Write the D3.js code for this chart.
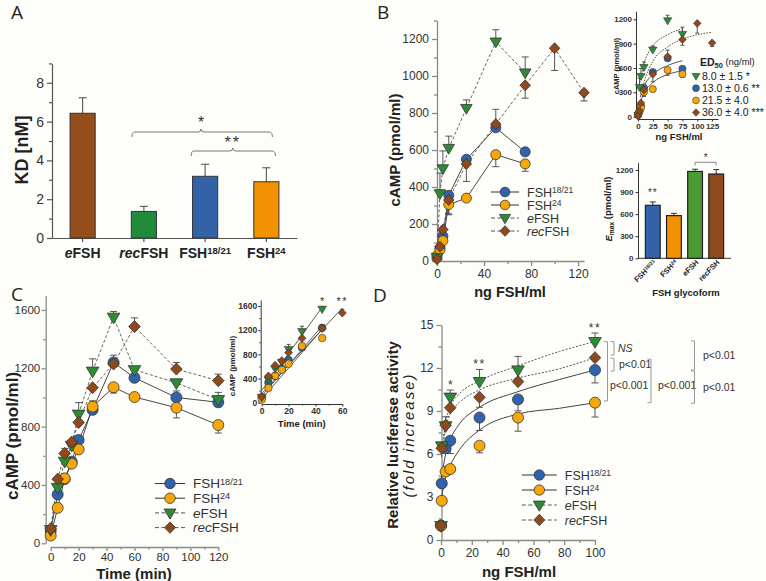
<!DOCTYPE html>
<html lang="en">
<head>
<meta charset="UTF-8">
<title>FSH glycoforms: binding, cAMP and luciferase responses</title>
<script src="https://cdn.jsdelivr.net/npm/d3@7/dist/d3.min.js"></script>
<style>
  html, body { margin: 0; padding: 0; background: #fdfdf9; }
  svg { display: block; }
</style>
</head>
<body>
<svg id="fig" width="766" height="581"></svg>
<script>
// ---------- values ----------

// A: receptor binding (KD, nM)
const kdNames  = ["eFSH", "recFSH", "FSH18/21", "FSH24"];
const kdValues = [6.43, 1.37, 3.18, 2.9];
const kdErrors = [0.8, 0.26, 0.62, 0.72];

// series order used in B, C and D
const seriesNames = ["FSH18/21", "FSH24", "eFSH", "recFSH"];

// B: cAMP vs dose; sign of the error tells which way the bar is drawn
const bDose1821 = [0, 2.5, 5, 10, 25, 50, 75];
const bCamp1821 = [20, 70, 135, 355, 550, 720, 590];
const bErr1821  = [0, 0, 0, 0, 0, 0, 15];
const bDose24   = [0, 2.5, 5, 10, 25, 50, 75];
const bCamp24   = [30, 60, 110, 305, 340, 575, 525];
const bErr24    = [0, 0, 0, -55, 0, -65, -40];
const bDoseE    = [0, 2.5, 5, 10, 25, 50, 75];
const bCampE    = [20, 365, 500, 610, 826, 1185, 1018];
const bErrE     = [0, 110, 95, 65, 45, 65, 85];
const bDoseRec  = [0, 2.5, 5, 10, 25, 50, 75, 100, 125];
const bCampRec  = [10, 77, 170, 330, 525, 740, 950, 1150, 910];
const bErrRec   = [0, 0, 0, -75, -95, 80, -70, -120, -45];

// B inset: fitted curves, [dose, cAMP]
const bFit1821 = [[4, 240], [10, 370], [25, 520], [50, 630], [75, 690]];
const bFit24   = [[4, 180], [10, 290], [25, 420], [50, 520], [75, 565]];
const bFitE    = [[3, 420], [10, 650], [25, 870], [50, 1010], [75, 1085]];
const bFitRec  = [[5, 270], [10, 420], [25, 680], [50, 860], [75, 955], [100, 1010], [125, 1040]];
const ed50Series = ["eFSH", "FSH18/21", "FSH24", "recFSH"];
const ed50Labels = ["8.0 \u00b1 1.5 *", "13.0 \u00b1 0.6 **", "21.5 \u00b1 4.0", "36.0 \u00b1 4.0 ***"];

// B inset: Emax (pmol/ml)
const emaxNames  = ["FSH18/21", "FSH24", "eFSH", "recFSH"];
const emaxValues = [720, 580, 1180, 1145];
const emaxErrors = [45, 30, 30, 60];

// C: cAMP time course (min)
const cTime     = [0, 5, 10, 15, 20, 30, 45, 60, 90, 120];
const cCamp1821 = [85, 335, 440, 560, 708, 915, 1240, 1135, 1000, 967];
const cErr1821  = [0, 0, 0, 0, 25, 0, 50, 25, 45, -30];
const cCamp24   = [53, 243, 445, 546, 644, 937, 1070, 1003, 930, 811];
const cErr24    = [0, 0, 0, 0, 0, 40, -40, -25, -70, -55];
const cCampE    = [93, 382, 562, 671, 885, 1180, 1550, 1190, 1100, 985];
const cErrE     = [0, 0, 0, 0, 80, 85, 40, 0, 0, 50];
const cCampRec  = [100, 440, 616, 694, 829, 1067, 1230, 1486, 1195, 1115];
const cErrRec   = [0, 0, 35, 0, 0, 0, 0, 60, 45, 45];

// C inset: linear fits up to the peak
const cFitStart = [110, 60, 200, 150];
const cFitEnd   = [1270, 1215, 1580, 1565];
const cFitLast  = [45, 45, 45, 60];

// D: luciferase activity vs dose
const dDose     = [0, 0.5, 3, 6, 25, 50, 100];
const dLuc1821  = [1.0, 3.95, 6.4, 6.93, 8.54, 9.81, 11.86];
const dErr1821  = [0, 0, 0, -0.9, -0.9, -0.8, -0.9];
const dLuc24    = [1.0, 2.74, 4.77, 4.95, 6.58, 8.54, 9.58];
const dErr24    = [0, 0, 0, 0, -0.5, -0.95, -1.0];
const dLucE     = [1.0, 6.56, 7.96, 9.96, 11.05, 11.86, 13.84];
const dErrE     = [0, 0, 0, 0.5, 0.85, 0.95, 0.6];
const dLucRec   = [1.0, 6.4, 8.0, 9.23, 9.96, 11.05, 12.72];
const dErrRec   = [0, 0, 0.6, 0, -0.7, 0.9, 0];

// D: fitted curves, [dose, fold]
const dFit1821 = [[0.3, 4.3], [3, 6.0], [6, 7.0], [12, 8.1], [25, 9.26], [50, 10.35], [77, 11.2], [100, 11.86]];
const dFit24   = [[0.3, 2.9], [3, 4.4], [6, 5.2], [12, 6.3], [25, 7.67], [50, 8.79], [77, 9.19], [100, 9.58]];
const dFitE    = [[0.3, 6.0], [3, 8.2], [6, 9.3], [12, 10.2], [25, 11.1], [50, 12.15], [77, 13.16], [100, 13.84]];
const dFitRec  = [[0.3, 5.8], [3, 7.8], [6, 8.8], [12, 9.6], [25, 10.47], [50, 11.3], [77, 11.95], [100, 12.72]];
const dStarDose  = [6, 25, 100];
const dStarLabel = ["*", "**", "**"];

// D: pairwise comparisons at 100 ng/ml
const dCompFrom  = [13.84, 12.68, 13.84, 12.61, 13.89, 11.79];
const dCompTo    = [12.91, 11.79, 9.7, 9.58, 11.86, 9.54];
const dCompLabel = ["NS", "p<0.01", "p<0.001", "p<0.001", "p<0.01", "p<0.01"];

// ---------- styles ----------
const FONT = "'Liberation Sans', Arial, Helvetica, sans-serif";
const seriesColor = { "FSH18/21": "#2f63ae", "FSH24": "#f7a707", "eFSH": "#2e8b35", "recFSH": "#8e4a1a" };
const seriesShape = { "FSH18/21": "circle", "FSH24": "circle", "eFSH": "triangle", "recFSH": "diamond" };
const seriesDash  = { "FSH18/21": false, "FSH24": false, "eFSH": true, "recFSH": true };
const kdColor   = { "eFSH": "#954d1b", "recFSH": "#1f8b3b", "FSH18/21": "#3462a6", "FSH24": "#f29200" };
const emaxColor = { "FSH18/21": "#3462a6", "FSH24": "#f29200", "eFSH": "#4a9a35", "recFSH": "#8e4a1a" };
const intFmt = d3.format("d");

const svg = d3.select("#fig").attr("font-family", FONT);
svg.append("rect").attr("width", 766).attr("height", 581).attr("fill", "#fdfdf9");

// ---------- helpers ----------
function shapePath(shape, r) {
  if (shape === "triangle") return `M${-r * 1.15},${-r * 0.75}L${r * 1.15},${-r * 0.75}L0,${r * 1.2}Z`;
  if (shape === "diamond") return `M0,${-r * 1.1}L${r * 1.05},0L0,${r * 1.1}L${-r * 1.05},0Z`;
  return d3.symbol(d3.symbolCircle, Math.PI * r * r)();
}

function marker(g, name, r, sw) {
  g.append("path").attr("d", shapePath(seriesShape[name], r))
    .attr("fill", seriesColor[name]).attr("stroke", "#333").attr("stroke-width", sw || 0.8);
}

// label with italic prefix / superscript suffix
function rich(t, name, italic) {
  const m = name.match(/^FSH(\d.*)$/);
  if (m) {
    t.append("tspan").text("FSH");
    t.append("tspan").attr("dy", "-0.42em").attr("font-size", "0.68em").text(m[1]);
  } else {
    const pre = name.replace("FSH", "");
    t.append("tspan").attr("font-style", italic ? "italic" : null).text(pre);
    t.append("tspan").text("FSH");
  }
}

function styleAxis(g, color, w, size, bold) {
  g.attr("font-family", FONT).attr("font-size", size);
  g.selectAll(".domain").attr("stroke", color).attr("stroke-width", w);
  g.selectAll(".tick line").attr("stroke", color).attr("stroke-width", w);
  g.selectAll(".tick text").attr("fill", "#333").attr("font-weight", bold ? "bold" : "normal");
}

function axes(g, x, y, o) {
  const ax = g.append("g").attr("transform", `translate(0,${o.xAt})`)
    .call(d3.axisBottom(x).tickValues(o.xTicks).tickFormat(intFmt)
      .tickSize(o.tick).tickSizeOuter(0).tickPadding(o.pad));
  styleAxis(ax, o.color, o.w, o.size, o.bold);
  if (o.xMinor) {
    const mx = g.append("g").attr("transform", `translate(0,${o.xAt})`)
      .call(d3.axisBottom(x).tickValues(o.xMinor).tickSize(o.minor).tickFormat(""));
    mx.select(".domain").remove();
    styleAxis(mx, o.color, o.w, o.size, o.bold);
  }
  const ay = g.append("g").attr("transform", `translate(${o.yAt},0)`)
    .call(d3.axisLeft(y).tickValues(o.yTicks).tickFormat(intFmt)
      .tickSize(o.tick).tickSizeOuter(0).tickPadding(o.pad));
  styleAxis(ay, o.color, o.w, o.size, o.bold);
  if (o.yMinor) {
    const my = g.append("g").attr("transform", `translate(${o.yAt},0)`)
      .call(d3.axisLeft(y).tickValues(o.yMinor).tickSize(o.minor).tickFormat(""));
    my.select(".domain").remove();
    styleAxis(my, o.color, o.w, o.size, o.bold);
  }
}

function toPoints(xs, ys, es) {
  return xs.map((d, k) => ({ x: d, y: ys[k], e: es ? es[k] : 0 }));
}

// lines, then error bars, then markers, so markers sit on top
function drawSeriesSet(g, x, y, sets, o) {
  const line = d3.line().x(d => x(d.x)).y(d => y(d.y));
  sets.forEach(s => {
    g.append("path").datum(s.pts).attr("d", line).attr("fill", "none")
      .attr("stroke", seriesDash[s.name] ? "#555" : "#333").attr("stroke-width", o.lw)
      .attr("stroke-dasharray", seriesDash[s.name] && o.dashed ? "3,2" : null);
  });
  sets.forEach(s => {
    s.pts.filter(d => d.e).forEach(d => {
      const x0 = x(d.x), y1 = y(d.y + d.e);
      g.append("line").attr("x1", x0).attr("x2", x0).attr("y1", y(d.y)).attr("y2", y1)
        .attr("stroke", "#444").attr("stroke-width", 0.9);
      g.append("line").attr("x1", x0 - o.cap).attr("x2", x0 + o.cap).attr("y1", y1).attr("y2", y1)
        .attr("stroke", "#444").attr("stroke-width", 0.9);
    });
  });
  sets.forEach(s => {
    g.selectAll(null).data(s.pts).join("g")
      .attr("transform", d => `translate(${x(d.x)},${y(d.y)})`)
      .each(function () { marker(d3.select(this), s.name, o.r, o.sw); });
  });
}

function legend(g, cx, y0, dy, half, r, size) {
  seriesNames.forEach((name, i) => {
    const yy = y0 + i * dy;
    g.append("line").attr("x1", cx - half).attr("x2", cx + half).attr("y1", yy).attr("y2", yy)
      .attr("stroke", seriesDash[name] ? "#555" : "#333").attr("stroke-width", 1)
      .attr("stroke-dasharray", seriesDash[name] ? "4,2.5" : null);
    marker(g.append("g").attr("transform", `translate(${cx},${yy})`), name, r);
    const t = g.append("text").attr("x", cx + half + 8).attr("y", yy + size * 0.36)
      .attr("font-size", size).attr("fill", "#333");
    rich(t, name, true);
  });
}

function yTitle(g, x, y, size, parts) {
  const t = g.append("text").attr("transform", `translate(${x},${y}) rotate(-90)`)
    .attr("text-anchor", "middle").attr("font-size", size).attr("font-weight", "bold").attr("fill", "#222");
  parts.forEach(p => {
    const s = t.append("tspan").text(p.t);
    if (p.it) s.attr("font-style", "italic");
    if (p.sub) s.attr("font-size", "0.7em").attr("dy", "0.3em");
    if (p.back) s.attr("dy", "-0.3em");
  });
  return t;
}

function panelLetter(x, y, s) {
  svg.append("text").attr("x", x).attr("y", y).attr("font-family", "'Open Sans', sans-serif")
    .attr("font-size", 19).attr("fill", "#222").text(s);
}

function brace(g, x1, x2, yy, cx, leg) {
  g.append("path")
    .attr("d", `M${x1},${yy + leg}Q${x1},${yy} ${x1 + 3},${yy}L${cx - 3},${yy}Q${cx},${yy} ${cx},${yy - 3}` +
               `Q${cx},${yy} ${cx + 3},${yy}L${x2 - 3},${yy}Q${x2},${yy} ${x2},${yy + leg}`)
    .attr("fill", "none").attr("stroke", "#777").attr("stroke-width", 1);
}

// ---------- A ----------
panelLetter(11, 19, "A");
{
  const g = svg.append("g");
  const x = d3.scaleBand().domain(kdNames).range([52, 297]).paddingInner(0.59).paddingOuter(0.295);
  const y = d3.scaleLinear().domain([0, 9]).range([238, 63.4]);

  const ay = g.append("g").attr("transform", "translate(52,0)")
    .call(d3.axisLeft(y).tickValues([0, 2, 4, 6, 8]).tickSize(5).tickSizeOuter(0).tickPadding(3));
  styleAxis(ay, "#555", 1.2, 14, false);
  const my = g.append("g").attr("transform", "translate(52,0)")
    .call(d3.axisLeft(y).tickValues([1, 3, 5, 7, 9]).tickSize(3).tickFormat(""));
  my.select(".domain").remove();
  styleAxis(my, "#555", 1.2, 14, false);
  const ax = g.append("g").attr("transform", "translate(0,238)")
    .call(d3.axisBottom(x).tickSize(4).tickSizeOuter(0).tickFormat(""));
  styleAxis(ax, "#555", 1.2, 14, false);

  kdNames.forEach((n, i) => {
    const top = y(kdValues[i] + kdErrors[i]), cx = x(n) + x.bandwidth() / 2;
    g.append("line").attr("x1", cx).attr("x2", cx).attr("y1", y(kdValues[i])).attr("y2", top)
      .attr("stroke", "#555").attr("stroke-width", 1.1);
    g.append("line").attr("x1", cx - 4).attr("x2", cx + 4).attr("y1", top).attr("y2", top)
      .attr("stroke", "#555").attr("stroke-width", 1.1);
  });
  g.selectAll("rect.bar").data(kdNames).join("rect").attr("class", "bar")
    .attr("x", d => x(d)).attr("width", x.bandwidth())
    .attr("y", (d, i) => y(kdValues[i])).attr("height", (d, i) => y(0) - y(kdValues[i]))
    .attr("fill", d => kdColor[d]).attr("stroke", "#333").attr("stroke-width", 1);

  kdNames.forEach(n => {
    const t = g.append("text").attr("x", x(n) + x.bandwidth() / 2).attr("y", 258)
      .attr("text-anchor", "middle").attr("font-size", 14).attr("font-weight", "bold").attr("fill", "#222");
    rich(t, n, true);
  });
  yTitle(g, 28, 150, 18, [{ t: "KD [nM]" }]);

  const c = n => x(n) + x.bandwidth() / 2;
  brace(g, c("recFSH") - 12, c("FSH24") + 6, 132, (c("recFSH") + c("FSH24")) / 2 - 4, 5);
  g.append("text").attr("x", (c("recFSH") + c("FSH24")) / 2 - 4).attr("y", 128).attr("text-anchor", "middle")
    .attr("font-size", 16).attr("fill", "#333").text("*");
  brace(g, c("FSH18/21") - 14, c("FSH24") + 9, 151, (c("FSH18/21") + c("FSH24")) / 2 - 3, 5);
  g.append("text").attr("x", (c("FSH18/21") + c("FSH24")) / 2 - 3).attr("y", 148).attr("text-anchor", "middle")
    .attr("font-size", 16).attr("letter-spacing", 2).attr("fill", "#333").text("**");
}

// ---------- B main ----------
panelLetter(377, 19, "B");
{
  const g = svg.append("g");
  const x = d3.scaleLinear().domain([0, 125]).range([437, 584]);
  const y = d3.scaleLinear().domain([0, 1300]).range([261, 20.5]);
  axes(g, x, y, {
    xAt: 261, yAt: 437, xTicks: [0, 40, 80, 120], xMinor: [20, 60, 100],
    yTicks: [0, 200, 400, 600, 800, 1000, 1200], yMinor: [100, 300, 500, 700, 900, 1100, 1300],
    tick: 5, minor: 3, pad: 3, color: "#8a8a8a", w: 1.3, size: 12, bold: false
  });
  drawSeriesSet(g, x, y, [
    { name: "FSH18/21", pts: toPoints(bDose1821, bCamp1821, bErr1821) },
    { name: "FSH24", pts: toPoints(bDose24, bCamp24, bErr24) },
    { name: "eFSH", pts: toPoints(bDoseE, bCampE, bErrE) },
    { name: "recFSH", pts: toPoints(bDoseRec, bCampRec, bErrRec) }
  ], { lw: 0.9, dashed: true, cap: 3.5, r: 5, sw: 0.8 });
  legend(g, 505, 192, 13, 14, 4.8, 12.5);
  yTitle(g, 400, 150, 15, [{ t: "cAMP (pmol/ml)" }]);
  g.append("text").attr("x", 510).attr("y", 297).attr("text-anchor", "middle").attr("font-size", 14.5)
    .attr("font-weight", "bold").attr("fill", "#222").text("ng FSH/ml");
}

// ---------- B inset: dose response with fits ----------
{
  const g = svg.append("g");
  const x = d3.scaleLinear().domain([0, 135]).range([638, 718]);
  const y = d3.scaleLinear().domain([0, 1300]).range([116.7, 11.2]);
  axes(g, x, y, {
    xAt: 119, yAt: 636, xTicks: [0, 25, 50, 75, 100, 125], xMinor: null,
    yTicks: [0, 300, 600, 900, 1200], yMinor: null,
    tick: 2.5, minor: 0, pad: 1.5, color: "#333", w: 1, size: 8, bold: true
  });
  const fit = d3.line().curve(d3.curveMonotoneX).x(d => x(d[0])).y(d => y(d[1]));
  [[bFit1821, false], [bFit24, false], [bFitE, true], [bFitRec, true]].forEach(([f, dot]) => {
    g.append("path").datum(f).attr("d", fit).attr("fill", "none")
      .attr("stroke", "#555").attr("stroke-width", 1).attr("stroke-dasharray", dot ? "1.6,1.2" : null);
  });
  drawSeriesSet(g, x, y, [
    { name: "FSH18/21", pts: toPoints(bDose1821, bCamp1821, bErr1821) },
    { name: "FSH24", pts: toPoints(bDose24, bCamp24, bErr24) },
    { name: "eFSH", pts: toPoints(bDoseE, bCampE, bErrE) },
    { name: "recFSH", pts: toPoints(bDoseRec, bCampRec, bErrRec) }
  ], { lw: 0, dashed: false, cap: 2, r: 3.6, sw: 0.6 });
  yTitle(g, 619, 66, 7.5, [{ t: "cAMP (pmol/ml)" }]);
  g.append("text").attr("x", 679).attr("y", 140).attr("text-anchor", "middle").attr("font-size", 9.5)
    .attr("font-weight", "bold").attr("fill", "#222").text("ng FSH/ml");

  const h = g.append("text").attr("x", 700).attr("y", 66).attr("font-size", 10.5).attr("fill", "#222");
  h.append("tspan").attr("font-weight", "bold").text("ED");
  h.append("tspan").attr("font-weight", "bold").attr("font-size", "0.7em").attr("dy", "0.3em").text("50");
  h.append("tspan").attr("font-size", "0.9em").attr("dy", "-0.3em").text(" (ng/ml)");
  ed50Series.forEach((n, i) => {
    const yy = 76 + i * 12.2;
    marker(g.append("g").attr("transform", `translate(696,${yy})`), n, 3.4, 0.6);
    g.append("text").attr("x", 702).attr("y", yy + 3.8).attr("font-size", 10.5).attr("fill", "#222")
      .text(ed50Labels[i]);
  });
}

// ---------- B inset: Emax bars ----------
{
  const g = svg.append("g");
  const x = d3.scaleBand().domain(emaxNames).range([638, 731]).paddingInner(0.3).paddingOuter(0.35);
  const y = d3.scaleLinear().domain([0, 1300]).range([258.3, 162.6]);
  const ay = g.append("g").attr("transform", "translate(638,0)")
    .call(d3.axisLeft(y).tickValues([0, 300, 600, 900, 1200]).tickFormat(intFmt)
      .tickSize(2.5).tickSizeOuter(0).tickPadding(2));
  styleAxis(ay, "#333", 1, 8, true);
  g.append("line").attr("x1", 638).attr("x2", 731).attr("y1", 258.3).attr("y2", 258.3)
    .attr("stroke", "#333").attr("stroke-width", 1);
  emaxNames.forEach((n, i) => {
    const cx = x(n) + x.bandwidth() / 2, top = y(emaxValues[i] + emaxErrors[i]);
    g.append("line").attr("x1", cx).attr("x2", cx).attr("y1", y(emaxValues[i])).attr("y2", top)
      .attr("stroke", "#333").attr("stroke-width", 1);
    g.append("line").attr("x1", cx - 3).attr("x2", cx + 3).attr("y1", top).attr("y2", top)
      .attr("stroke", "#333").attr("stroke-width", 1);
    const t = g.append("text").attr("transform", `translate(${cx + 4},263) rotate(-45)`)
      .attr("text-anchor", "end").attr("font-size", 7.5).attr("font-weight", "bold").attr("fill", "#222");
    rich(t, n, false);
  });
  g.selectAll("rect.emax").data(emaxNames).join("rect").attr("class", "emax")
    .attr("x", d => x(d)).attr("width", x.bandwidth())
    .attr("y", (d, i) => y(emaxValues[i])).attr("height", (d, i) => y(0) - y(emaxValues[i]))
    .attr("fill", d => emaxColor[d]).attr("stroke", "#222").attr("stroke-width", 1.2);

  const c = n => x(n) + x.bandwidth() / 2;
  g.append("text").attr("x", c("FSH18/21")).attr("y", 196).attr("text-anchor", "middle")
    .attr("font-size", 10).attr("letter-spacing", 1).attr("fill", "#333").text("**");
  g.append("path")
    .attr("d", `M${c("eFSH")},165.5L${c("eFSH")},162.3L${c("recFSH")},162.3L${c("recFSH")},165.5`)
    .attr("fill", "none").attr("stroke", "#888").attr("stroke-width", 1);
  g.append("text").attr("x", (c("eFSH") + c("recFSH")) / 2).attr("y", 161).attr("text-anchor", "middle")
    .attr("font-size", 10).attr("fill", "#333").text("*");
  yTitle(g, 612, 209, 9.5, [{ t: "E", it: true }, { t: "max", sub: true }, { t: " (pmol/ml)", back: true }]);
  g.append("text").attr("x", 686).attr("y", 296).attr("text-anchor", "middle").attr("font-size", 9.5)
    .attr("font-weight", "bold").attr("fill", "#222").text("FSH glycoform");
}

// ---------- C main ----------
panelLetter(11, 301, "C");
{
  const g = svg.append("g");
  const x = d3.scaleLinear().domain([0, 120]).range([50.7, 218.3]);
  const y = d3.scaleLinear().domain([0, 1700]).range([543.3, 295.4]);
  axes(g, x, y, {
    xAt: 547, yAt: 45.7, xTicks: [0, 20, 40, 60, 80, 100, 120], xMinor: [10, 30, 50, 70, 90, 110],
    yTicks: [0, 400, 800, 1200, 1600], yMinor: [200, 600, 1000, 1400],
    tick: 4, minor: 2.5, pad: 1.5, color: "#8a8a8a", w: 1.3, size: 11.5, bold: false
  });
  drawSeriesSet(g, x, y, [
    { name: "FSH18/21", pts: toPoints(cTime, cCamp1821, cErr1821) },
    { name: "FSH24", pts: toPoints(cTime, cCamp24, cErr24) },
    { name: "eFSH", pts: toPoints(cTime, cCampE, cErrE) },
    { name: "recFSH", pts: toPoints(cTime, cCampRec, cErrRec) }
  ], { lw: 0.9, dashed: true, cap: 3.5, r: 5.5, sw: 0.8 });
  legend(g, 170, 483.5, 14.7, 15, 5.2, 13.5);
  yTitle(g, 18, 436, 17, [{ t: "cAMP (pmol/ml)" }]);
  g.append("text").attr("x", 134).attr("y", 579).attr("text-anchor", "middle").attr("font-size", 15)
    .attr("font-weight", "bold").attr("fill", "#222").text("Time (min)");
}

// ---------- C inset ----------
{
  const g = svg.append("g");
  const x = d3.scaleLinear().domain([0, 60]).range([261.7, 342.3]);
  const y = d3.scaleLinear().domain([0, 1700]).range([402.7, 300]);
  axes(g, x, y, {
    xAt: 404, yAt: 260.7, xTicks: [0, 20, 40, 60], xMinor: [10, 30, 50],
    yTicks: [0, 400, 800, 1200, 1600], yMinor: [200, 600, 1000, 1400],
    tick: 2.5, minor: 1.5, pad: 1, color: "#333", w: 1, size: 8.5, bold: true
  });
  seriesNames.forEach((n, i) => {
    g.append("line").attr("x1", x(0)).attr("y1", y(cFitStart[i]))
      .attr("x2", x(cFitLast[i])).attr("y2", y(cFitEnd[i]))
      .attr("stroke", "#333").attr("stroke-width", 0.8);
  });
  const cut = (ys, es, i) => toPoints(cTime, ys, es).filter(d => d.x <= cFitLast[i]);
  drawSeriesSet(g, x, y, [
    { name: "FSH18/21", pts: cut(cCamp1821, cErr1821, 0) },
    { name: "FSH24", pts: cut(cCamp24, cErr24, 1) },
    { name: "eFSH", pts: cut(cCampE, cErrE, 2) },
    { name: "recFSH", pts: cut(cCampRec, cErrRec, 3) }
  ], { lw: 0, dashed: false, cap: 2, r: 3.8, sw: 0.6 });
  g.append("text").attr("x", x(45)).attr("y", y(cCampE[6] + cErrE[6]) - 2).attr("text-anchor", "middle")
    .attr("font-size", 11).attr("fill", "#333").text("*");
  g.append("text").attr("x", x(60)).attr("y", y(cCampRec[7] + 80) - 3).attr("text-anchor", "middle")
    .attr("font-size", 11).attr("letter-spacing", 1.5).attr("fill", "#333").text("**");
  yTitle(g, 235, 366, 8, [{ t: "cAMP (pmol/ml)" }]);
  g.append("text").attr("x", 301.7).attr("y", 427).attr("text-anchor", "middle").attr("font-size", 9.5)
    .attr("font-weight", "bold").attr("fill", "#222").text("Time (min)");
}

// ---------- D ----------
panelLetter(373, 302, "D");
{
  const g = svg.append("g");
  const x = d3.scaleLinear().domain([0, 100]).range([441, 595]);
  const y = d3.scaleLinear().domain([0, 15]).range([540, 325]);
  axes(g, x, y, {
    xAt: 540, yAt: 441.5, xTicks: [0, 20, 40, 60, 80, 100], xMinor: [10, 30, 50, 70, 90],
    yTicks: [0, 3, 6, 9, 12, 15], yMinor: [1.5, 4.5, 7.5, 10.5, 13.5],
    tick: 5, minor: 3, pad: 3, color: "#8a8a8a", w: 1.3, size: 12, bold: false
  });
  const fit = d3.line().curve(d3.curveMonotoneX).x(d => x(d[0])).y(d => y(d[1]));
  [[dFit1821, false], [dFit24, false], [dFitE, true], [dFitRec, true]].forEach(([f, dot]) => {
    g.append("path").datum(f).attr("d", fit).attr("fill", "none")
      .attr("stroke", dot ? "#555" : "#444").attr("stroke-width", 1)
      .attr("stroke-dasharray", dot ? "2,1.6" : null);
  });
  drawSeriesSet(g, x, y, [
    { name: "FSH18/21", pts: toPoints(dDose, dLuc1821, dErr1821) },
    { name: "FSH24", pts: toPoints(dDose, dLuc24, dErr24) },
    { name: "eFSH", pts: toPoints(dDose, dLucE, dErrE) },
    { name: "recFSH", pts: toPoints(dDose, dLucRec, dErrRec) }
  ], { lw: 0, dashed: false, cap: 3.5, r: 5.5, sw: 0.8 });

  dStarDose.forEach((dd, i) => {
    const k = dDose.indexOf(dd);
    g.append("text").attr("x", x(dd)).attr("y", y(dLucE[k] + dErrE[k]) - 1.5).attr("text-anchor", "middle")
      .attr("font-size", 12).attr("letter-spacing", dStarLabel[i].length > 1 ? 1.5 : 0)
      .attr("fill", "#333").text(dStarLabel[i]);
  });

  // "]" shaped brackets; horizontal position in px from the 100 ng/ml column
  const bx = [19, 19, 12.5, 56, 99.5, 99.5];
  const tx = [23, 24, 15, 63, 108, 108];
  const ty = [0.5, 0.5, 0.74, 0.6, 0.5, 0.5];
  dCompLabel.forEach((lab, i) => {
    const xr = x(100) + bx[i], y1 = y(dCompFrom[i]), y2 = y(dCompTo[i]);
    g.append("path").attr("d", `M${xr - 3.5},${y1}L${xr},${y1}L${xr},${y2}L${xr - 3.5},${y2}`)
      .attr("fill", "none").attr("stroke", "#999").attr("stroke-width", 1);
    g.append("text").attr("x", x(100) + tx[i]).attr("y", y1 + (y2 - y1) * ty[i] + 3.8)
      .attr("font-size", 10.5).attr("font-style", lab === "NS" ? "italic" : null)
      .attr("fill", "#333").text(lab);
  });

  legend(g, 539.3, 475, 15, 17.5, 5.2, 12.5);
  g.append("text").attr("transform", "translate(398,435) rotate(-90)").attr("text-anchor", "middle")
    .attr("font-size", 15).attr("font-weight", "bold").attr("fill", "#222").text("Relative luciferase activity");
  g.append("text").attr("transform", "translate(414,435) rotate(-90)").attr("text-anchor", "middle")
    .attr("font-size", 15).attr("font-style", "italic").attr("letter-spacing", 2).attr("fill", "#222")
    .text("(fold increase)");
  g.append("text").attr("x", 519).attr("y", 577).attr("text-anchor", "middle").attr("font-size", 15)
    .attr("font-weight", "bold").attr("fill", "#222").text("ng FSH/ml");
}
</script>
</body>
</html>
